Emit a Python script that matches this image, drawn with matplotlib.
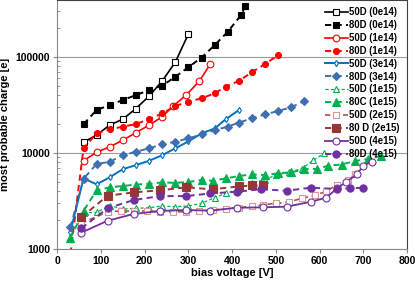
import matplotlib
matplotlib.use("Agg")
import matplotlib.pyplot as plt
from matplotlib.ticker import LogLocator, NullFormatter, FixedLocator

plt.rcParams['font.family'] = ['Liberation Sans', 'DejaVu Sans']
plt.rcParams['font.weight'] = 'bold'

# ---- data (bias voltage [V], most probable charge [e]) ----
v_50d_0 = [60, 90, 120, 150, 180, 210, 240, 270, 300]
q_50d_0 = [12900, 15400, 19500, 22500, 29000, 39000, 56000, 88000, 173000]

v_80d_0 = [60, 90, 120, 150, 180, 210, 240, 270, 300, 330, 360, 390, 420, 430]
q_80d_0 = [19900, 28000, 31500, 35500, 40000, 45000, 50000, 62000, 78000,
           98000, 132000, 182000, 270000, 335000]

v_50d_1e14 = [60, 90, 120, 150, 180, 210, 240, 265, 295, 325, 350]
q_50d_1e14 = [8300, 10200, 11600, 13600, 16300, 19500, 23800, 30800, 40000, 56000, 84000]

v_80d_1e14 = [30, 60, 90, 120, 150, 180, 210, 240, 270, 300, 330, 360, 385, 415,
              445, 475, 505]
q_80d_1e14 = [900, 11200, 16000, 17600, 18800, 20000, 22500, 25800, 30800, 34100,
              37000, 41700, 48900, 56000, 69000, 84000, 104000]

v_50d_3e14 = [30, 60, 90, 120, 150, 180, 210, 240, 270, 300, 330, 360, 385, 415]
q_50d_3e14 = [1520, 5450, 4730, 5600, 6800, 7500, 8300, 9500, 11200, 13200,
              16000, 18000, 22400, 27900]

v_80d_3e14 = [30, 60, 90, 120, 150, 180, 210, 240, 270, 300, 330, 360, 390, 415,
              445, 475, 505, 535, 565]
q_80d_3e14 = [1690, 5400, 7700, 8100, 9500, 10300, 11200, 12300, 13100, 14200,
              15600, 17300, 18800, 20700, 22900, 25200, 27300, 29900, 34700]

v_50d_1e15 = [60, 90, 120, 150, 180, 210, 240, 270, 300, 330, 360, 385, 415, 445,
              475, 500, 530, 560, 585, 610]
q_50d_1e15 = [2400, 2420, 2840, 2620, 2670, 2700, 2820, 2770, 2820, 3000, 3440,
              3810, 4200, 4900, 5300, 5900, 6300, 6900, 8400, 9900]

v_80c_1e15 = [30, 60, 90, 120, 150, 180, 210, 240, 270, 300, 330, 355, 385, 415,
              445, 475, 505, 535, 565, 595, 620, 650, 680, 710, 740]
q_80c_1e15 = [1300, 2500, 4100, 4400, 4550, 4700, 4800, 4950, 4900, 5000, 5250,
              5150, 5450, 5770, 6000, 5900, 6150, 6300, 6800, 6850, 7400, 7600,
              8250, 8650, 9300]

v_50d_2e15 = [55, 115, 145, 175, 205, 235, 265, 295, 325, 355, 385, 415, 445, 470,
              500, 530, 560, 590, 615, 640, 665, 680]
q_50d_2e15 = [1860, 2450, 2500, 2500, 2500, 2450, 2450, 2450, 2500, 2550, 2650,
              2700, 2800, 2900, 3000, 3100, 3400, 3650, 4000, 4700, 5250, 6000]

v_80d_2e15 = [55, 115, 175, 235, 295, 355, 415, 445, 470]
q_80d_2e15 = [2150, 3600, 3900, 4100, 4400, 4200, 4500, 4600, 4600]

v_50d_4e15 = [55, 115, 175, 235, 295, 350, 410, 470, 525, 580, 615, 640, 660, 685,
              700, 720]
q_50d_4e15 = [1490, 1980, 2330, 2500, 2560, 2520, 2700, 2730, 2770, 3120, 3440,
              4300, 4970, 6000, 7400, 8150]

v_80d_4e15 = [55, 115, 175, 235, 295, 350, 410, 465, 525, 580, 640, 670, 700]
q_80d_4e15 = [1650, 2670, 3250, 3570, 3570, 3800, 3960, 4200, 4060, 4370, 4230,
              4300, 4370]

labels = ['50D (0e14)', '80D (0e14)', '50D (1e14)', '80D (1e14)',
          '50D (3e14)', '80D (3e14)', '50D (1e15)', '80C (1e15)',
          '50D (2e15)', '80 D (2e15)', '50D (4e15)', '80D (4e15)']

dash = (0, (3.2, 2.2))
fig = plt.figure(figsize=(4.15, 2.81), dpi=100)
ax = fig.add_axes([0.138, 0.1128, 0.843, 0.887])

# (x, y, color, linestyle, marker, filled, markersize, linewidth)
series = [
    (v_50d_0, q_50d_0, 'black', '-', 's', False, 4.8, 1.2),
    (v_80d_0, q_80d_0, 'black', dash, 's', True, 4.2, 1.4),
    (v_50d_1e14, q_50d_1e14, '#ff0000', '-', 'o', False, 4.8, 1.2),
    (v_80d_1e14, q_80d_1e14, '#ff0000', dash, 'o', True, 4.3, 1.4),
    (v_50d_3e14, q_50d_3e14, '#0070c0', '-', 'd', False, 3.2, 1.4),
    (v_80d_3e14, q_80d_3e14, '#3f6fb0', dash, 'D', True, 3.7, 1.4),
    (v_50d_1e15, q_50d_1e15, '#00b050', (0, (2.5, 1.8)), '^', False, 4.8, 0.9),
    (v_80c_1e15, q_80c_1e15, '#00b050', dash, '^', True, 5.2, 1.4),
    (v_50d_2e15, q_50d_2e15, '#b0524e', dash, 's', False, 4.8, 1.2),
    (v_80d_2e15, q_80d_2e15, '#953735', dash, 's', True, 5.2, 1.4),
    (v_50d_4e15, q_50d_4e15, '#7030a0', '-', 'o', False, 5.0, 1.3),
    (v_80d_4e15, q_80d_4e15, '#7030a0', dash, 'o', True, 5.2, 1.4),
]

for (x, y, c, ls, m, filled, ms, lw), lab in zip(series, labels):
    edge = c
    if lab == '50D (2e15)':
        edge = '#d99694'
    ax.plot(x, y, color=c, linestyle=ls, linewidth=lw, marker=m, markersize=ms,
            markerfacecolor=c if filled else 'white', markeredgecolor=edge,
            markeredgewidth=0.8, label=lab)

ax.set_yscale('log')
ax.set_xlim(0, 800)
ax.set_ylim(1000, 388000)
ax.xaxis.set_major_locator(FixedLocator(range(0, 801, 100)))
ax.yaxis.set_major_locator(FixedLocator([1000, 10000, 100000]))
ax.yaxis.set_minor_locator(LogLocator(base=10, subs=range(2, 10)))
ax.yaxis.set_minor_formatter(NullFormatter())
ax.set_yticklabels(['1000', '10000', '100000'])
ax.grid(True, axis='y', which='major', color='#9a9a9a', linewidth=0.8)
ax.set_axisbelow(True)

ax.tick_params(axis='both', which='major', labelsize=7.5, length=3, color='#888888',
               width=0.8, pad=2)
ax.tick_params(axis='y', which='minor', length=2.5, direction='in', color='#888888', width=0.6)
for side in ['left', 'bottom']:
    ax.spines[side].set_color('#888888')
for side in ['top', 'right']:
    ax.spines[side].set_color('#404040')

ax.set_xlabel('bias voltage [V]', fontsize=8, fontweight='bold', labelpad=1)
ax.set_ylabel('most probable charge [e]', fontsize=8, fontweight='bold', labelpad=4)

leg = ax.legend(loc='upper right', frameon=False, fontsize=6.9, handlelength=2.4,
                handletextpad=0.2, labelspacing=0.3, borderaxespad=0.55,
                borderpad=0.2)

fig.savefig('out.png', dpi=100)
